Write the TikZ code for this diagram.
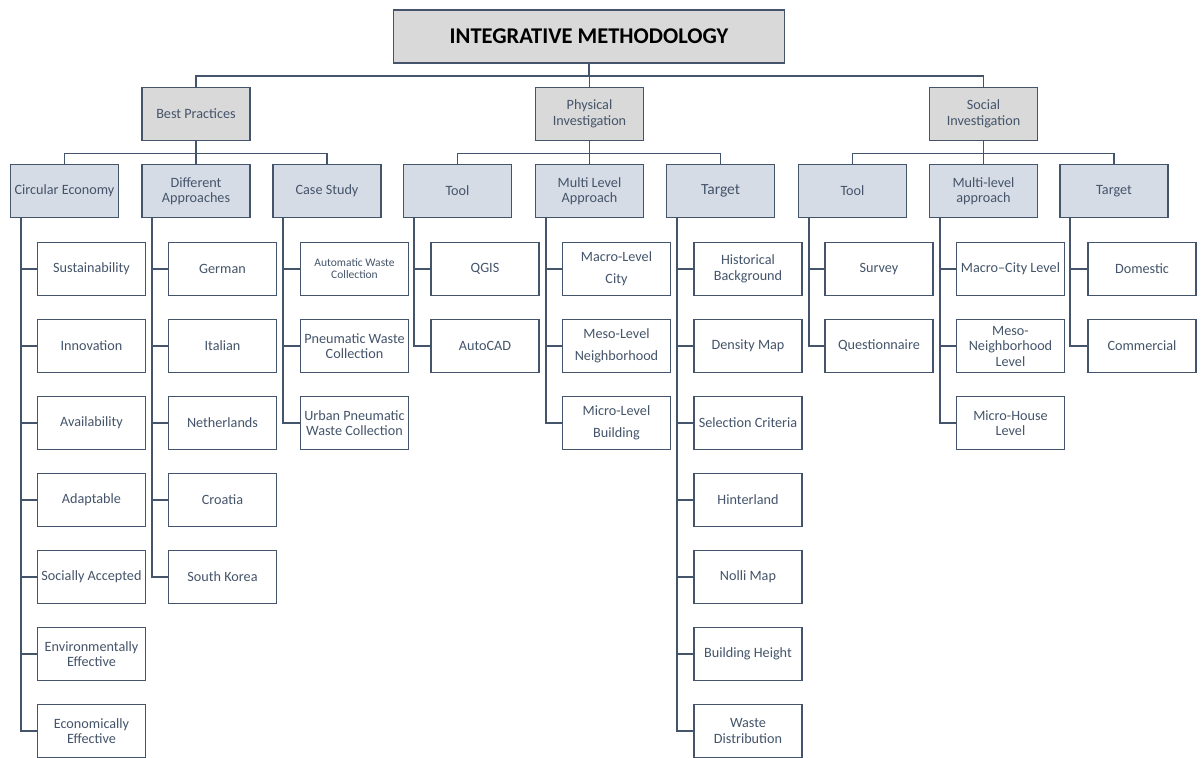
\documentclass[tikz,border=0pt]{standalone}
\usepackage{fontspec}
\setmainfont{Carlito}
\definecolor{slate}{HTML}{44546A}
\definecolor{greybox}{HTML}{D9D9D9}
\definecolor{bluebox}{HTML}{D6DCE5}
\tikzset{
  box/.style={draw=slate,line width=1.6pt,text=slate,align=center,inner sep=1pt,
    minimum width=108pt,minimum height=53pt,font=\fontsize{14.2}{15.5}\selectfont},
  topbox/.style={box,fill=greybox,text=black,minimum width=391pt,
    font=\fontsize{22.5}{24}\selectfont\bfseries},
  groupbox/.style={box,fill=greybox},
  partbox/.style={box,fill=bluebox},
  itembox/.style={box,fill=white},
  link/.style={draw=slate,line width=1.6pt}
}
\begin{document}
\begin{tikzpicture}[x=1pt,y=-1pt]
\useasboundingbox (0,0) rectangle (1203,758);

\node[topbox] (method) at (589,36.5) {INTEGRATIVE METHODOLOGY};

\node[groupbox] (best) at (196,114) {Best Practices};
\node[groupbox] (physical) at (589.5,114) {Physical\\Investigation};
\node[groupbox] (social) at (983.5,114) {Social\\Investigation};

\node[partbox] (circular) at (64.5,191) {Circular Economy};
\node[partbox] (approaches) at (196,191) {Different\\Approaches};
\node[partbox] (casestudy) at (327,191) {Case Study};
\node[partbox] (ptool) at (457.5,191) {Tool};
\node[partbox] (plevel) at (589.5,191) {Multi Level\\Approach};
\node[partbox,font=\fontsize{15.5}{17}\selectfont] (ptarget) at (720.5,191) {Target};
\node[partbox] (stool) at (852.5,191) {Tool};
\node[partbox] (slevel) at (983.5,191) {Multi-level\\approach};
\node[partbox] (starget) at (1114,191) {Target};

\node[itembox] (sustain) at (91.5,269) {Sustainability};
\node[itembox] (innov) at (91.5,346) {Innovation};
\node[itembox] (avail) at (91.5,423) {Availability};
\node[itembox] (adapt) at (91.5,500) {Adaptable};
\node[itembox] (socacc) at (91.5,577) {Socially Accepted};
\node[itembox] (enveff) at (91.5,654) {Environmentally\\Effective};
\node[itembox] (ecoeff) at (91.5,731) {Economically\\Effective};

\node[itembox] (german) at (222.5,269) {German};
\node[itembox] (italian) at (222.5,346) {Italian};
\node[itembox] (nether) at (222.5,423) {Netherlands};
\node[itembox] (croatia) at (222.5,500) {Croatia};
\node[itembox] (korea) at (222.5,577) {South Korea};

\node[itembox,font=\fontsize{11.5}{12}\selectfont] (autowaste) at (354.5,269) {Automatic Waste\\Collection};
\node[itembox] (pneuwaste) at (354.5,346) {Pneumatic Waste\\Collection};
\node[itembox] (urbwaste) at (354.5,423) {Urban Pneumatic\\Waste Collection};

\node[itembox] (qgis) at (485,269) {QGIS};
\node[itembox] (autocad) at (485,346) {AutoCAD};

\node[itembox] (pmacro) at (616.5,269) {Macro-Level\\[6.5pt]City};
\node[itembox] (pmeso) at (616.5,346) {Meso-Level\\[6.5pt]Neighborhood};
\node[itembox] (pmicro) at (616.5,423) {Micro-Level\\[6.5pt]Building};

\node[itembox] (history) at (748,269) {Historical\\Background};
\node[itembox] (density) at (748,346) {Density Map};
\node[itembox] (criteria) at (748,423) {Selection Criteria};
\node[itembox] (hinter) at (748,500) {Hinterland};
\node[itembox] (nolli) at (748,577) {Nolli Map};
\node[itembox] (height) at (748,654) {Building Height};
\node[itembox] (wastedist) at (748,731) {Waste\\Distribution};

\node[itembox] (survey) at (879,269) {Survey};
\node[itembox] (quest) at (879,346) {Questionnaire};

\node[itembox] (smacro) at (1010.5,269) {Macro–City Level};
\node[itembox] (smeso) at (1010.5,346) {Meso-\\Neighborhood\\Level};
\node[itembox] (smicro) at (1010.5,423) {Micro-House\\Level};

\node[itembox] (domestic) at (1142,269) {Domestic};
\node[itembox] (commercial) at (1142,346) {Commercial};

\draw[link] (method.south) -- ++(0,12) -| (best.north);
\draw[link] (method.south) -- ++(0,12) -| (physical.north);
\draw[link] (method.south) -- ++(0,12) -| (social.north);

\draw[link] (best.south) -- ++(0,12) -| (circular.north);
\draw[link] (best.south) -- ++(0,12) -| (approaches.north);
\draw[link] (best.south) -- ++(0,12) -| (casestudy.north);
\draw[link] (physical.south) -- ++(0,12) -| (ptool.north);
\draw[link] (physical.south) -- ++(0,12) -| (plevel.north);
\draw[link] (physical.south) -- ++(0,12) -| (ptarget.north);
\draw[link] (social.south) -- ++(0,12) -| (stool.north);
\draw[link] (social.south) -- ++(0,12) -| (slevel.north);
\draw[link] (social.south) -- ++(0,12) -| (starget.north);

\draw[link] ([xshift=11pt]circular.south west) |- (sustain.west);
\draw[link] ([xshift=11pt]circular.south west) |- (innov.west);
\draw[link] ([xshift=11pt]circular.south west) |- (avail.west);
\draw[link] ([xshift=11pt]circular.south west) |- (adapt.west);
\draw[link] ([xshift=11pt]circular.south west) |- (socacc.west);
\draw[link] ([xshift=11pt]circular.south west) |- (enveff.west);
\draw[link] ([xshift=11pt]circular.south west) |- (ecoeff.west);

\draw[link] ([xshift=11pt]approaches.south west) |- (german.west);
\draw[link] ([xshift=11pt]approaches.south west) |- (italian.west);
\draw[link] ([xshift=11pt]approaches.south west) |- (nether.west);
\draw[link] ([xshift=11pt]approaches.south west) |- (croatia.west);
\draw[link] ([xshift=11pt]approaches.south west) |- (korea.west);

\draw[link] ([xshift=11pt]casestudy.south west) |- (autowaste.west);
\draw[link] ([xshift=11pt]casestudy.south west) |- (pneuwaste.west);
\draw[link] ([xshift=11pt]casestudy.south west) |- (urbwaste.west);

\draw[link] ([xshift=11pt]ptool.south west) |- (qgis.west);
\draw[link] ([xshift=11pt]ptool.south west) |- (autocad.west);

\draw[link] ([xshift=11pt]plevel.south west) |- (pmacro.west);
\draw[link] ([xshift=11pt]plevel.south west) |- (pmeso.west);
\draw[link] ([xshift=11pt]plevel.south west) |- (pmicro.west);

\draw[link] ([xshift=11pt]ptarget.south west) |- (history.west);
\draw[link] ([xshift=11pt]ptarget.south west) |- (density.west);
\draw[link] ([xshift=11pt]ptarget.south west) |- (criteria.west);
\draw[link] ([xshift=11pt]ptarget.south west) |- (hinter.west);
\draw[link] ([xshift=11pt]ptarget.south west) |- (nolli.west);
\draw[link] ([xshift=11pt]ptarget.south west) |- (height.west);
\draw[link] ([xshift=11pt]ptarget.south west) |- (wastedist.west);

\draw[link] ([xshift=11pt]stool.south west) |- (survey.west);
\draw[link] ([xshift=11pt]stool.south west) |- (quest.west);

\draw[link] ([xshift=11pt]slevel.south west) |- (smacro.west);
\draw[link] ([xshift=11pt]slevel.south west) |- (smeso.west);
\draw[link] ([xshift=11pt]slevel.south west) |- (smicro.west);

\draw[link] ([xshift=11pt]starget.south west) |- (domestic.west);
\draw[link] ([xshift=11pt]starget.south west) |- (commercial.west);
\end{tikzpicture}
\end{document}
